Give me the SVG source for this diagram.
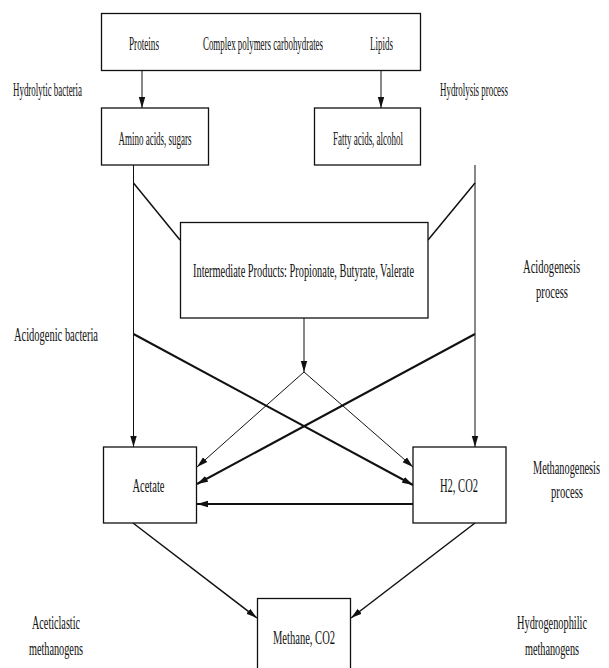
<svg xmlns="http://www.w3.org/2000/svg" width="609" height="668" viewBox="0 0 609 668">
<style>
text{font-family:"Liberation Serif","Times New Roman",serif;font-size:19.5px;fill:#111;text-anchor:middle}
.box{fill:#fff;stroke:#111;stroke-width:1.3}
.ln{stroke:#111;stroke-width:1;fill:none}
.th{stroke:#111;stroke-width:2;fill:none}
.md{stroke:#111;stroke-width:1.5;fill:none}
</style>
<defs>
<marker id="ah" markerUnits="userSpaceOnUse" markerWidth="12" markerHeight="8" refX="11" refY="4" orient="auto">
<path d="M0,0.8 L11,4 L0,7.2 Z" fill="#111"/>
</marker>
</defs>
<rect width="609" height="668" fill="#fff"/>
<g id="connectors">
<line class="ln" x1="142" y1="70" x2="142" y2="108" marker-end="url(#ah)"/>
<line class="ln" x1="381" y1="70" x2="381" y2="108" marker-end="url(#ah)"/>
<line class="ln" x1="133.5" y1="165" x2="133.5" y2="447" marker-end="url(#ah)"/>
<line class="ln" x1="475" y1="165" x2="475" y2="447" marker-end="url(#ah)"/>
<line class="md" x1="133.5" y1="183" x2="180" y2="240"/>
<line class="md" x1="475" y1="183" x2="428" y2="240"/>
<line class="ln" x1="304" y1="318" x2="304" y2="372" marker-end="url(#ah)"/>
<line class="ln" x1="304" y1="372" x2="197" y2="467" marker-end="url(#ah)"/>
<line class="ln" x1="304" y1="372" x2="413" y2="467" marker-end="url(#ah)"/>
<line class="th" x1="133.5" y1="334" x2="413" y2="485" marker-end="url(#ah)"/>
<line class="th" x1="475" y1="334" x2="197" y2="484" marker-end="url(#ah)"/>
<line class="th" x1="413" y1="504" x2="197" y2="504" marker-end="url(#ah)"/>
<line class="md" x1="133" y1="523" x2="257" y2="618" marker-end="url(#ah)"/>
<line class="md" x1="475" y1="523" x2="351" y2="618" marker-end="url(#ah)"/>
</g>
<g id="top">
<rect class="box" x="101.5" y="13.5" width="319" height="57"/>
<text transform="translate(144,50) scale(0.45,1)" textLength="66.7" lengthAdjust="spacingAndGlyphs">Proteins</text>
<text transform="translate(263,50) scale(0.45,1)" textLength="266.7" lengthAdjust="spacingAndGlyphs">Complex polymers carbohydrates</text>
<text transform="translate(381.5,50) scale(0.45,1)" textLength="51.1" lengthAdjust="spacingAndGlyphs">Lipids</text>
</g>
<g id="amino">
<rect class="box" x="101.5" y="108" width="107" height="57"/>
<text transform="translate(155,145) scale(0.45,1)" textLength="162.2" lengthAdjust="spacingAndGlyphs">Amino acids, sugars</text>
</g>
<g id="fatty">
<rect class="box" x="314.5" y="108" width="106" height="57"/>
<text transform="translate(368,145) scale(0.45,1)" textLength="155.6" lengthAdjust="spacingAndGlyphs">Fatty acids, alcohol</text>
</g>
<g id="intermediate">
<rect class="box" x="180.5" y="222.5" width="247.5" height="95.5"/>
<text transform="translate(303.5,277) scale(0.45,1)" textLength="491.1" lengthAdjust="spacingAndGlyphs">Intermediate Products: Propionate, Butyrate, Valerate</text>
</g>
<g id="acetate">
<rect class="box" x="103.5" y="447" width="93" height="76"/>
<text transform="translate(148.5,492) scale(0.45,1)" textLength="71.1" lengthAdjust="spacingAndGlyphs">Acetate</text>
</g>
<g id="h2co2">
<rect class="box" x="413" y="447" width="93" height="76"/>
<text transform="translate(459,492) scale(0.45,1)" textLength="84.4" lengthAdjust="spacingAndGlyphs">H2, CO2</text>
</g>
<g id="methane">
<rect class="box" x="257.5" y="598.5" width="93" height="80"/>
<text transform="translate(304,644) scale(0.45,1)" textLength="137.8" lengthAdjust="spacingAndGlyphs">Methane, CO2</text>
</g>
<g id="labels">
<text transform="translate(47.5,96) scale(0.45,1)" textLength="153.3" lengthAdjust="spacingAndGlyphs">Hydrolytic bacteria</text>
<text transform="translate(474,96) scale(0.45,1)" textLength="151.1" lengthAdjust="spacingAndGlyphs">Hydrolysis process</text>
<text transform="translate(56,341) scale(0.45,1)" textLength="186.7" lengthAdjust="spacingAndGlyphs">Acidogenic bacteria</text>
<text transform="translate(551.5,273) scale(0.45,1)" textLength="126.7" lengthAdjust="spacingAndGlyphs">Acidogenesis</text>
<text transform="translate(552,298) scale(0.45,1)" textLength="71.1" lengthAdjust="spacingAndGlyphs">process</text>
<text transform="translate(566.5,474) scale(0.45,1)" textLength="148.9" lengthAdjust="spacingAndGlyphs">Methanogenesis</text>
<text transform="translate(567,498) scale(0.45,1)" textLength="71.1" lengthAdjust="spacingAndGlyphs">process</text>
<text transform="translate(56,629) scale(0.45,1)" textLength="106.7" lengthAdjust="spacingAndGlyphs">Aceticlastic</text>
<text transform="translate(56,655) scale(0.45,1)" textLength="120" lengthAdjust="spacingAndGlyphs">methanogens</text>
<text transform="translate(552,629) scale(0.45,1)" textLength="155.6" lengthAdjust="spacingAndGlyphs">Hydrogenophilic</text>
<text transform="translate(552,655) scale(0.45,1)" textLength="120" lengthAdjust="spacingAndGlyphs">methanogens</text>
</g>
</svg>
